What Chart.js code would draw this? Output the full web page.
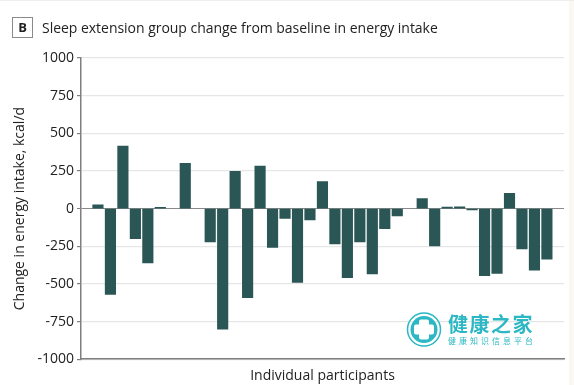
<!DOCTYPE html>
<html><head><meta charset="utf-8">
<script src="https://cdn.jsdelivr.net/npm/chart.js@4"></script>
<style>
html,body{margin:0;padding:0;background:#fff;width:574px;height:385px;overflow:hidden}
#wrap{position:relative;width:574px;height:385px}
canvas{position:absolute;left:0;top:0}
#strip{position:absolute;left:569px;top:0;width:5px;height:385px;background:#faf8f0}
#top{position:absolute;left:0;top:0;width:574px;height:1px;background:#eee}
#badge{position:absolute;left:12px;top:17px;width:19px;height:19px;border:1.5px solid #8a8a8a;font:bold 13px "Open Sans",sans-serif;color:#222;text-align:center;line-height:19px}
#title{position:absolute;left:42px;top:18px;font:14px "Open Sans",sans-serif;color:#222;white-space:nowrap;letter-spacing:-0.03px}
</style></head><body>
<div id="wrap">
<canvas id="c" width="574" height="385"></canvas>
<div id="strip"></div><div id="top"></div>
<div id="badge">B</div>
<div id="title">Sleep extension group change from baseline in energy intake</div>
</div>
<script>
const participants=[1,2,3,4,5,6,7,8,9,10,11,12,13,14,15,16,17,18,19,20,21,22,23,24,25,26,27,28,29,30,31,32,33,34,35,36,37];
const intake=[25,-570,415,-200,-360,8,null,300,null,-222,-800,248,-592,283,-258,-65,-491,-75,180,-234,-458,-221,-434,-133,-49,null,66,-248,10,12,-8,-445,-431,102,-268,-409,-336];
const yTicks=[1000,750,500,250,0,-250,-500,-750,-1000];
const points=participants.map((p,i)=>({x:p,y:intake[i]}));
const wm={id:'wm',afterDraw(ch){
  const c=ch.ctx;c.save();
  const col='#2bb8c4';
  c.strokeStyle=col;c.lineWidth=1.5;c.beginPath();c.arc(424,329.5,16.5,0,7);c.stroke();
  c.fillStyle=col;c.beginPath();c.arc(424,329.5,13.5,0,7);c.fill();
  c.fillStyle='#fff';
  c.beginPath();c.roundRect(419,319.5,10,20,2);c.fill();
  c.beginPath();c.roundRect(414,324.5,20,10,2);c.fill();
  c.fillStyle=col;c.textBaseline='middle';c.textAlign='left';
  c.font='bold 20px "Noto Sans CJK SC"';
  c.letterSpacing='1.5px';c.fillText('健康之家',448,324.5);
  c.font='8px "Noto Sans CJK SC"';
  c.letterSpacing='3px';c.fillText('健康知识信息平台',448,341);
  c.restore();
}};
new Chart(document.getElementById('c'),{
  type:'bar',
  data:{datasets:[{data:points,backgroundColor:'#2b5656',barThickness:10.5}]},
  plugins:[wm],
  options:{
    responsive:false,animation:false,
    layout:{padding:{left:12,right:10,top:58,bottom:1}},
    plugins:{legend:{display:false},tooltip:{enabled:false}},
    scales:{
      x:{type:'linear',offset:false,min:-0.36,max:38.37,
        grid:{display:false,drawTicks:false,offset:false},
        border:{display:true,color:'#7f7f7f',width:1.5},
        ticks:{display:false},
        title:{display:true,text:'Individual participants',color:'#222',font:{family:'Open Sans',size:14},padding:{top:8,bottom:0}}},
      y:{min:-1000,max:1000,
        afterBuildTicks(a){a.ticks=yTicks.map(v=>({value:v}))},
        afterFit(a){a.width=69},
        grid:{color:c=>c.tick.value===0?'#8a8a8a':'#e6e6e6',lineWidth:c=>c.tick.value===0?1:1.2,tickColor:'#7f7f7f',tickLength:4},
        border:{color:'#7f7f7f',width:1.5},
        ticks:{color:'#222',font:{family:'Open Sans',size:14},padding:3,callback:v=>String(v)},
        title:{display:true,text:'Change in energy intake, kcal/d',color:'#222',font:{family:'Open Sans',size:14},padding:{top:0,bottom:4}}}
    }
  }
});
</script>
</body></html>
